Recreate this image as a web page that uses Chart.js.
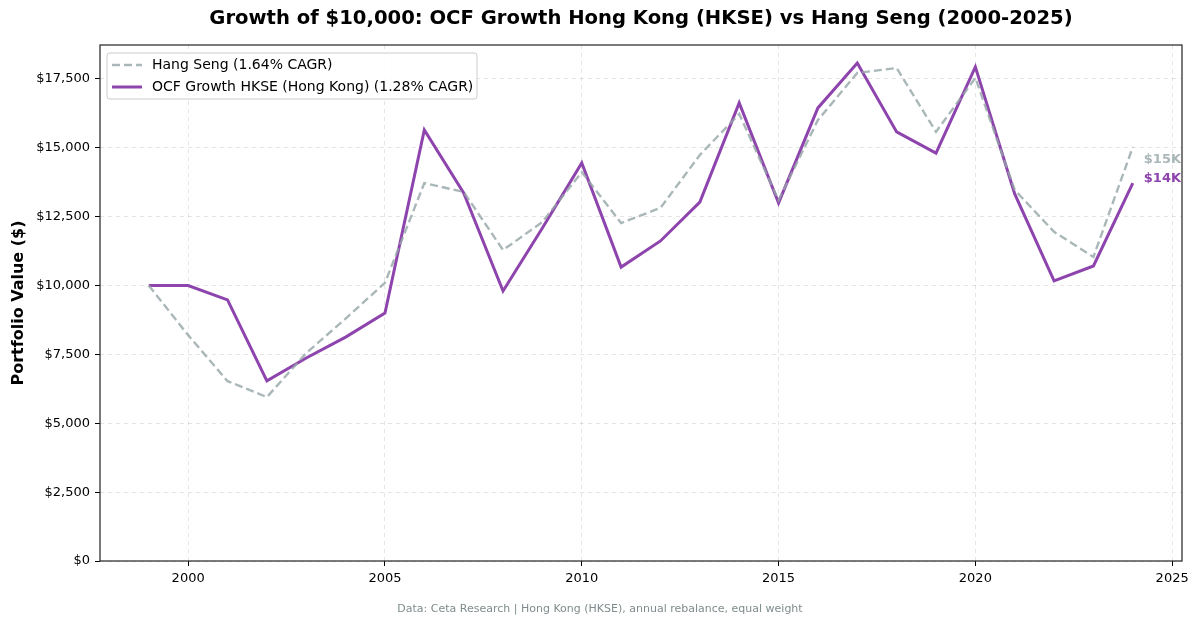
<!DOCTYPE html>
<html>
<head>
<meta charset="utf-8">
<script src="https://cdn.jsdelivr.net/npm/chart.js@4.4.1/dist/chart.umd.min.js"></script>
<style>
  html, body { margin: 0; padding: 0; background: #fff; }
  #wrap { width: 1200px; height: 625px; }
</style>
</head>
<body>
<div id="wrap"><canvas id="growthChart" width="1200" height="625"></canvas></div>
<script>
// data
var years = [1999, 2000, 2001, 2002, 2003, 2004, 2005, 2006, 2007, 2008, 2009, 2010, 2011,
             2012, 2013, 2014, 2015, 2016, 2017, 2018, 2019, 2020, 2021, 2022, 2023, 2024];
var hangSeng = [10000, 8200, 6530, 5950, 7550, 8800, 10100, 13720, 13400, 11290, 12310, 14120, 12270,
                12820, 14740, 16230, 13100, 16010, 17720, 17900, 15580, 17540, 13470, 11950, 11040, 15030];
var ocfGrowth = [10000, 10000, 9480, 6540, 7370, 8130, 9000, 15650, 13360, 9800, 12090, 14450, 10670,
                 11620, 13030, 16630, 13000, 16450, 18080, 15580, 14810, 17940, 13330, 10170, 10710, 13720];
var xTicks = [2000, 2005, 2010, 2015, 2020, 2025];
var yTicks = [0, 2500, 5000, 7500, 10000, 12500, 15000, 17500];
var seriesNames = ["Hang Seng (1.64% CAGR)", "OCF Growth HKSE (Hong Kong) (1.28% CAGR)"];
var endLabels = ["$15K", "$14K"];

var grayColor = "rgba(149,165,166,0.8)";
var purpleColor = "#8e44ad";
var font = "'DejaVu Sans', sans-serif";

function toPoints(vals) {
    return vals.map(function (v, i) { return { x: years[i], y: v }; });
}

// title, footer, frame, legend and end labels
var decorPlugin = {
    id: "decor",
    afterDraw: function (chart) {
        var ctx = chart.ctx;
        var area = chart.chartArea;
        ctx.save();
        ctx.fillStyle = "#000";
        ctx.textAlign = "center";
        ctx.textBaseline = "middle";
        ctx.font = "bold 19.6px " + font;
        ctx.fillText("Growth of $10,000: OCF Growth Hong Kong (HKSE) vs Hang Seng (2000-2025)", 641, 19);
        ctx.font = "11px " + font;
        ctx.fillStyle = "#7f8c8d";
        ctx.fillText("Data: Ceta Research | Hong Kong (HKSE), annual rebalance, equal weight", 600, 609);

        // frame
        ctx.strokeStyle = "#222";
        ctx.lineWidth = 1.2;
        ctx.strokeRect(area.left, area.top, area.right - area.left, area.bottom - area.top);

        // legend
        var lx = area.left + 7, ly = area.top + 8, lw = 370, lh = 46;
        ctx.fillStyle = "rgba(255,255,255,0.85)";
        ctx.strokeStyle = "#cccccc";
        ctx.lineWidth = 1;
        ctx.beginPath();
        ctx.roundRect(lx, ly, lw, lh, 3);
        ctx.fill();
        ctx.stroke();
        var rows = [ly + 12, ly + 34];
        ctx.lineWidth = 2.4;
        ctx.strokeStyle = grayColor;
        ctx.setLineDash([8, 4]);
        ctx.beginPath(); ctx.moveTo(lx + 5, rows[0]); ctx.lineTo(lx + 35, rows[0]); ctx.stroke();
        ctx.setLineDash([]);
        ctx.lineWidth = 3;
        ctx.strokeStyle = purpleColor;
        ctx.beginPath(); ctx.moveTo(lx + 5, rows[1]); ctx.lineTo(lx + 35, rows[1]); ctx.stroke();
        ctx.fillStyle = "#000";
        ctx.textAlign = "left";
        ctx.font = "14px " + font;
        ctx.fillText(seriesNames[0], lx + 45, rows[0]);
        ctx.fillText(seriesNames[1], lx + 45, rows[1]);

        // end labels
        var xs = chart.scales.x, ys = chart.scales.y;
        var last = years.length - 1;
        ctx.font = "bold 13px " + font;
        ctx.fillStyle = grayColor;
        ctx.fillText(endLabels[0], xs.getPixelForValue(years[last]) + 11, ys.getPixelForValue(hangSeng[last]) + 13);
        ctx.fillStyle = purpleColor;
        ctx.fillText(endLabels[1], xs.getPixelForValue(years[last]) + 11, ys.getPixelForValue(ocfGrowth[last]) - 4);
        ctx.restore();
    }
};

var ctx = document.getElementById("growthChart").getContext("2d");
new Chart(ctx, {
    type: "line",
    data: {
        datasets: [{
            label: seriesNames[0],
            data: toPoints(hangSeng),
            borderColor: grayColor,
            borderWidth: 2.4,
            borderDash: [8, 4],
            pointRadius: 0,
            fill: false,
            tension: 0
        }, {
            label: seriesNames[1],
            data: toPoints(ocfGrowth),
            borderColor: purpleColor,
            borderWidth: 3,
            pointRadius: 0,
            fill: false,
            tension: 0
        }]
    },
    options: {
        responsive: false,
        animation: false,
        layout: { padding: { top: 45, right: 18, bottom: 0, left: 0 } },
        plugins: {
            legend: { display: false },
            tooltip: { enabled: false }
        },
        scales: {
            x: {
                type: "linear",
                min: 1997.76,
                max: 2025.25,
                afterBuildTicks: function (axis) {
                    axis.ticks = xTicks.map(function (v) { return { value: v }; });
                },
                afterFit: function (axis) { axis.height = 64; },
                grid: {
                    color: "rgba(0,0,0,0.1)",
                    tickColor: "#000",
                    tickLength: 5
                },
                border: { display: false, dash: [4, 4] },
                ticks: {
                    color: "#000",
                    font: { family: font, size: 13 },
                    padding: 5,
                    maxRotation: 0,
                    callback: function (v) { return String(v); }
                }
            },
            y: {
                min: 0,
                max: 18734,
                afterBuildTicks: function (axis) {
                    axis.ticks = yTicks.map(function (v) { return { value: v }; });
                },
                afterFit: function (axis) { axis.width = 100; },
                grid: {
                    color: "rgba(0,0,0,0.1)",
                    tickColor: "#000",
                    tickLength: 5
                },
                border: { display: false, dash: [4, 4] },
                title: {
                    display: true,
                    text: "Portfolio Value ($)",
                    color: "#000",
                    font: { family: font, size: 16, weight: "bold" },
                    padding: { top: 9, bottom: 0 }
                },
                ticks: {
                    color: "#000",
                    font: { family: font, size: 13 },
                    padding: 5,
                    callback: function (v) { return "$" + v.toLocaleString("en-US"); }
                }
            }
        }
    },
    plugins: [decorPlugin]
});
</script>
</body>
</html>
